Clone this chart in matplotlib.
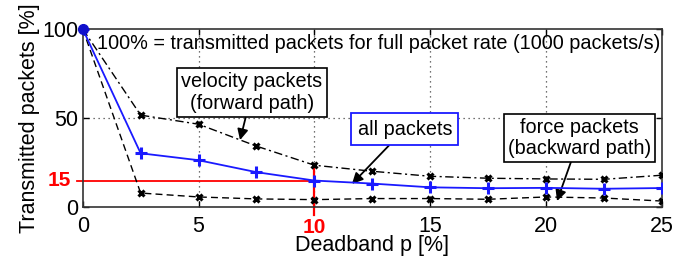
import matplotlib
matplotlib.use("Agg")
import matplotlib.pyplot as plt

plt.rcParams['font.family'] = ['Liberation Sans', 'DejaVu Sans']

deadband = [0, 2.5, 5, 7.5, 10, 12.5, 15, 17.5, 20, 22.5, 25]
all_packets = [100, 30.3, 26.4, 19.7, 15, 13.3, 11.2, 10.7, 10.9, 10.4, 10.8]
velocity_packets = [100, 51.7, 46.6, 34.3, 23.6, 20.2, 17.4, 16.3, 15.9, 15.7, 18.0]
force_packets = [100, 8.0, 5.8, 4.7, 4.3, 4.9, 4.9, 4.5, 5.8, 5.2, 3.5]
xticks = [0, 5, 10, 15, 20, 25]
yticks = [0, 50, 100]
mark_x = 10
mark_y = 15

fig = plt.figure(figsize=(6.87, 2.6), dpi=100)
ax = fig.add_axes([0.1204, 0.2027, 0.8432, 0.6858])

ax.plot(deadband, velocity_packets, color='black', linestyle=(0, (6, 2.5, 1.5, 2.5)), lw=1.0,
        marker='x', ms=5, mew=2.2, zorder=3)
ax.plot(deadband, force_packets, color='black', linestyle=(0, (5, 3)), lw=1.0,
        marker='x', ms=5, mew=2.2, zorder=3)
ax.plot(deadband, all_packets, color='#1a1aff', lw=1.3, marker='+', ms=8, mew=2.2, zorder=4)
ax.plot(deadband[0], all_packets[0], 'o', color='#1010cc', ms=7, zorder=5, clip_on=False)

# red reference lines
ax.plot([-0.25, mark_x], [mark_y, mark_y], color='red', lw=1.3, zorder=2, clip_on=False)
ax.plot([mark_x, mark_x], [-4.5, 21.5], color='red', lw=1.6, zorder=2, clip_on=False)

ax.set_xlim(0, 25)
ax.set_ylim(0, 100)
ax.set_xticks(xticks)
ax.set_yticks(yticks)
ax.set_xticklabels(['' if t == mark_x else str(t) for t in xticks], fontsize=15.5)
ax.set_yticklabels([str(t) for t in yticks], fontsize=15.5)
ax.annotate(str(mark_x), xy=(mark_x, 0), xycoords='data', xytext=(0, -14.5),
            textcoords='offset points', color='red', fontsize=15, fontweight='bold',
            ha='center', va='center')
ax.text(-0.5, mark_y, str(mark_y), color='red', fontsize=15, fontweight='bold',
        ha='right', va='center')

ax.tick_params(axis='x', direction='in', top=True, length=4, width=1, pad=6)
ax.tick_params(axis='y', direction='in', right=True, length=4, width=1, pad=3)
for s in ax.spines.values():
    s.set_linewidth(1.2)
    s.set_color('#333333')

# grid
for gx in [5, 10, 15, 20]:
    ax.axvline(gx, color='#444444', ls=(0, (1, 3)), lw=0.9, zorder=1)
ax.axhline(50, color='#444444', ls=(0, (1, 3)), lw=0.9, zorder=1)

fig.text(0.5415, 1 - 245.5 / 260, 'Deadband p [%]', fontsize=15.5, ha='center', va='center')
ax.set_ylabel('Transmitted packets [%]', fontsize=15.5, labelpad=2)

ax.text(0.62, 91.8, '100% = transmitted packets for full packet rate (1000 packets/s)',
        fontsize=14.3, ha='left', va='center')

arrowprops = dict(arrowstyle='-|>', color='black', lw=1.3, mutation_scale=16, shrinkA=0, shrinkB=0)
ax.annotate('velocity packets\n(forward path)', xy=(6.79, 37.7), xytext=(7.3, 64.4),
            fontsize=14.3, ha='center', va='center', linespacing=1.15,
            bbox=dict(boxstyle='square,pad=0.22', fc='white', ec='black', lw=1.2),
            arrowprops=arrowprops)
ax.annotate('all packets', xy=(11.62, 13.1), xytext=(13.9, 43.9),
            fontsize=14.3, ha='center', va='center',
            bbox=dict(boxstyle='square,pad=0.32', fc='white', ec='#1a1aff', lw=1.3),
            arrowprops=arrowprops)
ax.annotate('force packets\n(backward path)', xy=(20.47, 3.5), xytext=(21.44, 38.9),
            fontsize=14.3, ha='center', va='center', linespacing=1.1,
            bbox=dict(boxstyle='square,pad=0.2', fc='white', ec='black', lw=1.2),
            arrowprops=arrowprops)

fig.savefig('out.png', dpi=100)
